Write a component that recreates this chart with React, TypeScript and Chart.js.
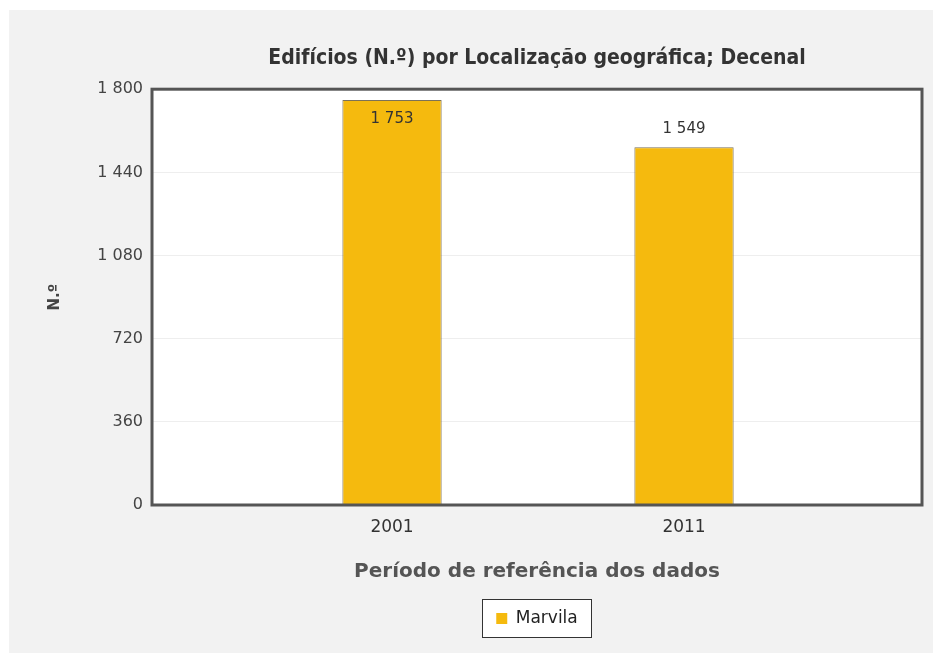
import React, { useEffect, useRef } from "react";
import { Chart, registerables } from "chart.js";

Chart.register(...registerables);

const chartTitle = "Edifícios (N.º) por Localização geográfica; Decenal";
const xAxisTitle = "Período de referência dos dados";
const yAxisTitle = "N.º";
const years = ["2001", "2011"];
const seriesName = "Marvila";
const marvila = [1753, 1549];
const yTicks = [0, 360, 720, 1080, 1440, 1800];

const fmt = (v: number) => String(v).replace(/\B(?=(\d{3})+(?!\d))/g, " ");

const FONT = "'DejaVu Sans', Verdana, sans-serif";

const decorPlugin = {
  id: "decor",
  beforeDraw(chart: any) {
    const { ctx, chartArea } = chart;
    ctx.save();
    ctx.fillStyle = "#ffffff";
    ctx.fillRect(chartArea.left, chartArea.top, chartArea.right - chartArea.left, chartArea.bottom - chartArea.top);
    const hb = chart.legend && chart.legend.legendHitBoxes && chart.legend.legendHitBoxes[0];
    if (hb) {
      const x = Math.round(hb.left - 14) + 0.5;
      const y = Math.round(hb.top + hb.height / 2 - 20) + 0.5;
      const w = Math.round(hb.width + 28);
      const h = 38;
      ctx.fillStyle = "#ffffff";
      ctx.fillRect(x, y, w, h);
      ctx.strokeStyle = "#333333";
      ctx.lineWidth = 1;
      ctx.strokeRect(x, y, w, h);
    }
    ctx.restore();
  },
  afterDatasetsDraw(chart: any) {
    const { ctx, chartArea } = chart;
    ctx.save();
    ctx.strokeStyle = "#555555";
    ctx.lineWidth = 3;
    ctx.strokeRect(chartArea.left, chartArea.top, chartArea.right - chartArea.left, chartArea.bottom - chartArea.top);
    // data labels
    const meta = chart.getDatasetMeta(0);
    ctx.font = `15px ${FONT}`;
    ctx.fillStyle = "#333333";
    ctx.textAlign = "center";
    meta.data.forEach((bar: any, i: number) => {
      const v = chart.data.datasets[0].data[i].y;
      const txt = fmt(v);
      if (bar.y - 30 < chartArea.top) {
        ctx.textBaseline = "top";
        ctx.fillText(txt, bar.x, bar.y + 12);
      } else {
        ctx.textBaseline = "bottom";
        ctx.fillText(txt, bar.x, bar.y - 11);
      }
    });
    ctx.restore();
  },
};

export default function App() {
  const ref = useRef<HTMLCanvasElement>(null);
  useEffect(() => {
    if (!ref.current) return;
    const chart = new Chart(ref.current, {
      type: "bar",
      data: {
        datasets: [
          {
            label: seriesName,
            data: years.map((_, i) => ({ x: i, y: marvila[i] })) as any,
            backgroundColor: "#F5BA0E",
            borderColor: "#7C7258",
            borderWidth: 1,
            categoryPercentage: 1,
            barPercentage: 0.34,
          },
        ],
      },
      plugins: [decorPlugin],
      options: {
        animation: false,
        responsive: false,
        devicePixelRatio: 1,
        layout: { padding: { left: 0, right: 19, top: 0, bottom: 16 } },
        plugins: {
          title: {
            display: true,
            text: chartTitle,
            fullSize: false,
            color: "#333333",
            font: { family: "'DejaVu Sans Condensed', 'DejaVu Sans', sans-serif", size: 21, weight: "bold" },
            padding: { top: 36, bottom: 18 },
          },
          legend: {
            display: true,
            position: "bottom",
            fullSize: false,
            labels: {
              boxWidth: 11,
              boxHeight: 11,
              color: "#222222",
              font: { family: FONT, size: 17 },
              padding: 10,
              generateLabels: (c: any) =>
                (Chart.defaults.plugins.legend.labels.generateLabels as any)(c).map((l: any) => ({
                  ...l,
                  lineWidth: 0,
                  strokeStyle: l.fillStyle,
                })),
            },
          },
          tooltip: { enabled: false },
        },
        scales: {
          x: {
            type: "linear",
            min: -0.822,
            max: 1.815,
            offset: false,
            grid: { display: false, drawTicks: false },
            border: { display: false },
            afterBuildTicks: (s: any) => {
              s.ticks = years.map((_, i) => ({ value: i }));
            },
            afterFit: (s: any) => {
              s.height = 95;
            },
            ticks: {
              padding: 12,
              color: "#333333",
              font: { family: FONT, size: 17 },
              callback: (v: any) => years[v] ?? "",
              maxRotation: 0,
              autoSkip: false,
            },
            title: {
              display: true,
              text: xAxisTitle,
              color: "#555555",
              font: { family: FONT, size: 20, weight: "bold" },
              padding: { top: 0, bottom: 16 },
            },
          },
          y: {
            min: 0,
            max: 1800,
            afterBuildTicks: (s: any) => {
              s.ticks = yTicks.map((v) => ({ value: v }));
            },
            afterFit: (s: any) => {
              s.width = 143;
            },
            grid: { color: "#eeeeee", drawTicks: false },
            border: { display: false },
            ticks: {
              padding: 9,
              color: "#444444",
              font: { family: FONT, size: 16 },
              callback: (v: any) => fmt(Number(v)),
            },
            title: {
              display: true,
              text: yAxisTitle,
              color: "#444444",
              font: { family: FONT, size: 15, weight: "bold" },
              padding: { top: 37, bottom: 0 },
            },
          },
        },
      },
    });
    return () => chart.destroy();
  }, []);
  return (
    <div style={{ marginTop: 2, marginLeft: 1, width: 932, height: 643, background: "#f2f2f2" }}>
      <canvas ref={ref} width={932} height={643} style={{ display: "block" }} />
    </div>
  );
}
